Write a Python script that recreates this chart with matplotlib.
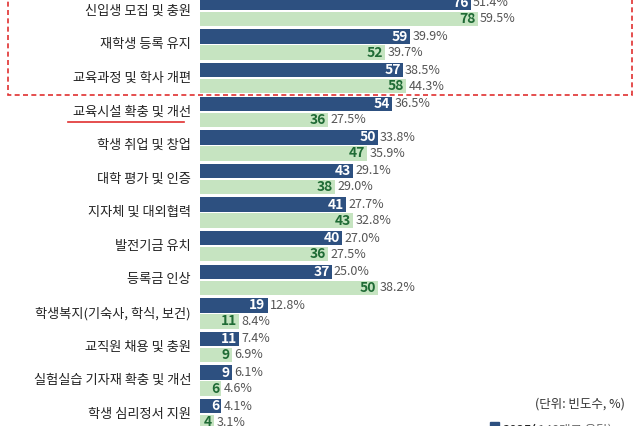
import matplotlib
matplotlib.use("Agg")
import matplotlib.pyplot as plt
from matplotlib.patches import Rectangle

plt.rcParams["font.family"] = ["Noto Sans CJK JP", "Noto Sans CJK KR", "Noto Sans CJK SC", "DejaVu Sans"]

categories = ["신입생 모집 및 충원", "재학생 등록 유지", "교육과정 및 학사 개편", "교육시설 확충 및 개선",
              "학생 취업 및 창업", "대학 평가 및 인증", "지자체 및 대외협력", "발전기금 유치", "등록금 인상",
              "학생복지(기숙사, 학식, 보건)", "교직원 채용 및 충원", "실험실습 기자재 확충 및 개선", "학생 심리정서 지원"]
v2025 = [76, 59, 57, 54, 50, 43, 41, 40, 37, 19, 11, 9, 6]
p2025 = [51.4, 39.9, 38.5, 36.5, 33.8, 29.1, 27.7, 27.0, 25.0, 12.8, 7.4, 6.1, 4.1]
v2024 = [78, 52, 58, 36, 47, 38, 43, 36, 50, 11, 9, 6, 4]
p2024 = [59.5, 39.7, 44.3, 27.5, 35.9, 29.0, 32.8, 27.5, 38.2, 8.4, 6.9, 4.6, 3.1]

BLUE = "#2d5080"
GREEN = "#c6e4c1"
GTXT = "#1f6b35"
GREY = "#555555"

fig = plt.figure(figsize=(6.4, 4.26), dpi=100)
ax = fig.add_axes([200/640, 0, 440/640, 1])
ax.set_xlim(0, 440/3.56)
ax.set_ylim(426, 0)
ax.axis("off")

fax = fig.add_axes([0, 0, 1, 1], zorder=-1)
fax.set_xlim(0, 640); fax.set_ylim(426, 0); fax.axis("off")

step = 33.6
for i, cat in enumerate(categories):
    yc = 11 + step * i
    yb, yg = yc - 8, yc + 8
    ax.barh(yb, v2025[i], height=14.5, color=BLUE)
    ax.barh(yg, v2024[i], height=14.5, color=GREEN)
    ax.text(v2025[i] - 0.6, yb, str(v2025[i]), color="white", fontsize=10, fontweight="bold", ha="right", va="center")
    ax.text(v2024[i] - 0.6, yg, str(v2024[i]), color=GTXT, fontsize=10, fontweight="bold", ha="right", va="center")
    ax.text(v2025[i] + 0.6, yb, f"{p2025[i]:.1f}%", color=GREY, fontsize=9, ha="left", va="center")
    ax.text(v2024[i] + 0.6, yg, f"{p2024[i]:.1f}%", color=GREY, fontsize=9, ha="left", va="center")
    fax.text(191, yc, cat, fontsize=9.5, ha="right", va="center", color="#222222")

fax.add_patch(Rectangle((8, -10), 624, 105, fill=False, ec="#e03030", ls=(0, (3, 2)), lw=1.2))
fax.plot([68, 184], [122, 122], color="#e03030", lw=1.2)

fax.text(625, 404, "(단위: 빈도수, %)", fontsize=9, ha="right", va="center", color="#333333")
fax.add_patch(Rectangle((490, 422), 9, 9, color=BLUE))
fax.text(503, 430, "2025(", fontsize=9, fontweight="bold", ha="left", va="center", color="#222222")
fax.text(538, 430, "148개교 응답)", fontsize=9, ha="left", va="center", color="#666666")

fig.savefig("out.png", dpi=100)
